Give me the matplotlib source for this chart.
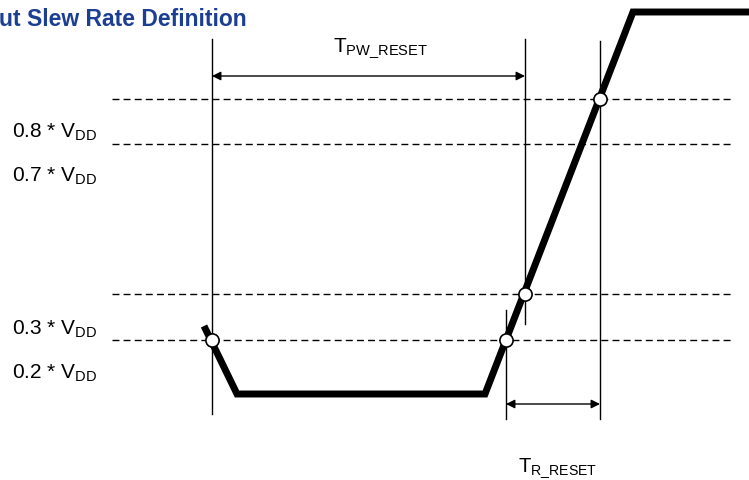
import matplotlib.pyplot as plt

plt.rcParams['font.family'] = ['Liberation Sans', 'DejaVu Sans']
plt.rcParams['mathtext.fontset'] = 'custom'
plt.rcParams['mathtext.rm'] = 'Liberation Sans'
plt.rcParams['mathtext.it'] = 'Liberation Sans'

# Diagram coordinates (pixel-like units, y grows downward)
wave_x = [204, 237, 485, 633, 760]
wave_y = [327, 395, 395, 13, 13]

dash_levels = [100, 145, 295, 341]
dash_start, dash_end = 112, 731

level_labels = ['0.8 * V$_{\\mathrm{DD}}$', '0.7 * V$_{\\mathrm{DD}}$',
                '0.3 * V$_{\\mathrm{DD}}$', '0.2 * V$_{\\mathrm{DD}}$']
label_y = [132, 176, 329, 373]

# vertical markers: x, top, bottom
vlines_x = [212, 525, 506, 600]
vlines_top = [40, 40, 311, 42]
vlines_bot = [415, 325, 420, 420]

cross_x = [212, 506, 525, 600]
cross_y = [341, 341, 295, 100]

fig = plt.figure(figsize=(7.49, 4.81), dpi=100)
ax = fig.add_axes([0, 0, 1, 1])
ax.set_xlim(0, 749)
ax.set_ylim(481, 0)
ax.axis('off')

for y in dash_levels:
    ax.plot([dash_start, dash_end], [y, y], color='black', lw=1.0,
            dashes=(5, 3))

for x, t, b in zip(vlines_x, vlines_top, vlines_bot):
    ax.plot([x, x], [t, b], color='black', lw=1.0)

ax.plot(wave_x, wave_y, color='black', lw=5, solid_joinstyle='miter',
        solid_capstyle='butt')

ax.plot(cross_x, cross_y, 'o', ms=9.5, mfc='white', mec='black', mew=1.2,
        zorder=5)

# dimension arrows
arrow = dict(arrowstyle='<|-|>', mutation_scale=13, lw=1.0, color='black',
             shrinkA=0, shrinkB=0)
ax.annotate('', xy=(212, 77), xytext=(525, 77), arrowprops=arrow)
ax.annotate('', xy=(506, 405), xytext=(600, 405), arrowprops=arrow)

ax.text(333, 48, 'T$_{\\mathrm{PW\\_RESET}}$', fontsize=15,
        va='center', ha='left')
ax.text(518, 468, 'T$_{\\mathrm{R\\_RESET}}$', fontsize=14.5,
        va='center', ha='left')

for lab, y in zip(level_labels, label_y):
    ax.text(12, y, lab, fontsize=15, va='center', ha='left')

ax.text(-1, 19, 'ut Slew Rate Definition', fontsize=16.5, fontweight='bold',
        color='#1c3f94', va='center', ha='left')

fig.savefig('out.png', dpi=100)
